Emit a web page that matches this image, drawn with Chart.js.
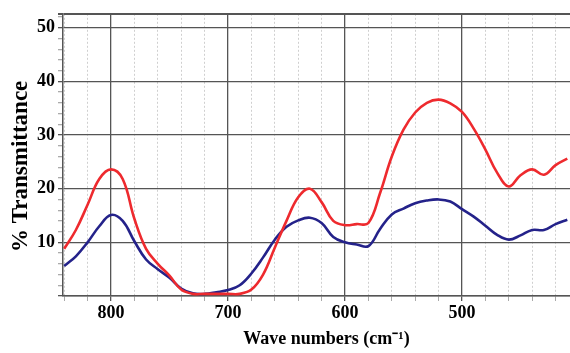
<!DOCTYPE html>
<html>
<head>
<meta charset="utf-8">
<script src="https://cdn.jsdelivr.net/npm/chart.js@4"></script>
<style>
  html, body { margin: 0; padding: 0; background: #fff; overflow: hidden; }
  #wrap { width: 570px; height: 353px; overflow: hidden; }
</style>
</head>
<body>
<div id="wrap"><canvas id="chart" width="590" height="353"></canvas></div>
<script>
// wave numbers (cm-1), read every 10 units off the picture
var waveNumbers = [840, 830, 820, 810, 800, 790, 780, 770, 760, 750, 740, 730, 720, 710, 700,
                   690, 680, 670, 660, 650, 640, 630, 620, 610, 600, 590, 580, 570, 560, 550,
                   540, 530, 520, 510, 500, 490, 480, 470, 460, 450, 440, 430, 420, 410];
var redTransmittance = [8.8, 12.3, 17.0, 21.8, 23.6, 21.8, 14.4, 8.8, 6.0, 3.8, 1.2, 0.4, 0.4, 0.4, 0.4,
                        0.4, 1.2, 4.0, 9.0, 14.0, 18.4, 20.0, 17.5, 14.0, 13.2, 13.4, 13.6, 19.2, 26.0, 31.0,
                        34.2, 36.0, 36.6, 35.9, 34.3, 31.2, 27.3, 23.0, 20.4, 22.5, 23.6, 22.6, 24.4, 25.6];
var blueTransmittance = [5.6, 7.4, 10.0, 13.0, 15.1, 14.0, 10.2, 6.8, 5.0, 3.4, 1.4, 0.5, 0.4, 0.7, 1.1,
                         2.0, 4.2, 7.2, 10.5, 12.9, 14.1, 14.6, 13.6, 11.0, 10.0, 9.6, 9.3, 12.5, 15.2, 16.3,
                         17.3, 17.8, 18.0, 17.6, 16.2, 14.8, 13.1, 11.4, 10.5, 11.3, 12.3, 12.3, 13.4, 14.2];

var xTicks = [400, 420, 440, 460, 480, 500, 520, 540, 560, 580, 600, 620, 640, 660, 680, 700,
              720, 740, 760, 780, 800, 820, 840];
var xLabels = [800, 700, 600, 500];
var yTicks = [0, 2, 4, 6, 8, 10, 12, 14, 16, 18, 20, 22, 24, 26, 28, 30, 32, 34, 36, 38, 40,
              42, 44, 46, 48, 50, 52];
var yLabels = [10, 20, 30, 40, 50];
var yTop = 52.6;

var xMin = 390.6, xMax = 841;

function isMajorX(v) { return v % 100 === 0; }
function isMajorY(v) { return v % 10 === 0 || v === yTop; }

var tickFont = { family: 'Liberation Serif', size: 18, weight: 'bold' };

var ctx = document.getElementById('chart').getContext('2d');
var myChart = new Chart(ctx, {
  type: 'line',
  data: {
    datasets: [{
      data: waveNumbers.map(function(w, i) { return { x: w, y: redTransmittance[i] }; }),
      borderColor: 'rgb(238, 42, 46)',
      borderWidth: 2.6,
      pointRadius: 0,
      tension: 0.4,
      fill: false
    },
    {
      data: waveNumbers.map(function(w, i) { return { x: w, y: blueTransmittance[i] }; }),
      borderColor: 'rgb(36, 34, 138)',
      borderWidth: 2.6,
      pointRadius: 0,
      tension: 0.4,
      fill: false
    }]
  },
  options: {
    responsive: false,
    animation: false,
    devicePixelRatio: 1,
    layout: { padding: { top: 13, right: 0, left: 0, bottom: 0 } },
    plugins: { legend: { display: false }, tooltip: { enabled: false } },
    scales: {
      x: {
        type: 'linear',
        reverse: true,
        min: xMin,
        max: xMax,
        afterBuildTicks: function(scale) {
          scale.ticks = xTicks.filter(function(v) { return v >= xMin && v <= xMax; })
                              .map(function(v) { return { value: v }; });
        },
        afterFit: function(scale) { scale.height = 57; },
        ticks: {
          autoSkip: false,
          maxRotation: 0,
          padding: 2,
          color: '#000',
          font: tickFont,
          callback: function(value) { return xLabels.indexOf(value) >= 0 ? String(value) : ''; }
        },
        grid: {
          color: function(c) { return c.tick && isMajorX(c.tick.value) ? '#555' : '#cfcfcf'; },
          lineWidth: function(c) { return c.tick && isMajorX(c.tick.value) ? 1.3 : 1; },
          tickLength: 5,
          tickColor: function(c) { return c.tick && isMajorX(c.tick.value) ? '#555' : '#aaa'; }
        },
        border: {
          display: true,
          color: '#555',
          width: 1.5,
          dash: function(c) { return c.tick && !isMajorX(c.tick.value) ? [2, 2] : []; }
        },
        title: {
          display: true,
          text: 'Wave numbers (cm\u207B\u00B9)',
          color: '#000',
          font: { family: 'Liberation Serif', size: 18, weight: 'bold' },
          padding: { top: 0, bottom: 3 }
        }
      },
      y: {
        min: 0,
        max: yTop,
        afterBuildTicks: function(scale) {
          scale.ticks = yTicks.concat([yTop]).map(function(v) { return { value: v }; });
        },
        afterFit: function(scale) { scale.width = 63; },
        ticks: {
          autoSkip: false,
          padding: 3,
          color: '#000',
          font: tickFont,
          callback: function(value) { return yLabels.indexOf(value) >= 0 ? String(value) : ''; }
        },
        grid: {
          color: function(c) { return c.tick && isMajorY(c.tick.value) ? '#555' : 'rgba(0,0,0,0)'; },
          lineWidth: function(c) { return c.tick && c.tick.value === yTop ? 2 : 1.3; },
          tickLength: 5,
          tickColor: function(c) { return c.tick && isMajorY(c.tick.value) ? '#555' : '#aaa'; }
        },
        border: { display: true, color: '#555', width: 1.5 },
        title: {
          display: true,
          // trailing spaces push the text down to where the original sits
          text: '% Transmittance    ',
          color: '#000',
          font: { family: 'Liberation Serif', size: 23, weight: 'bold' },
          padding: { top: 7, bottom: 0 }
        }
      }
    }
  }
});
</script>
</body>
</html>
